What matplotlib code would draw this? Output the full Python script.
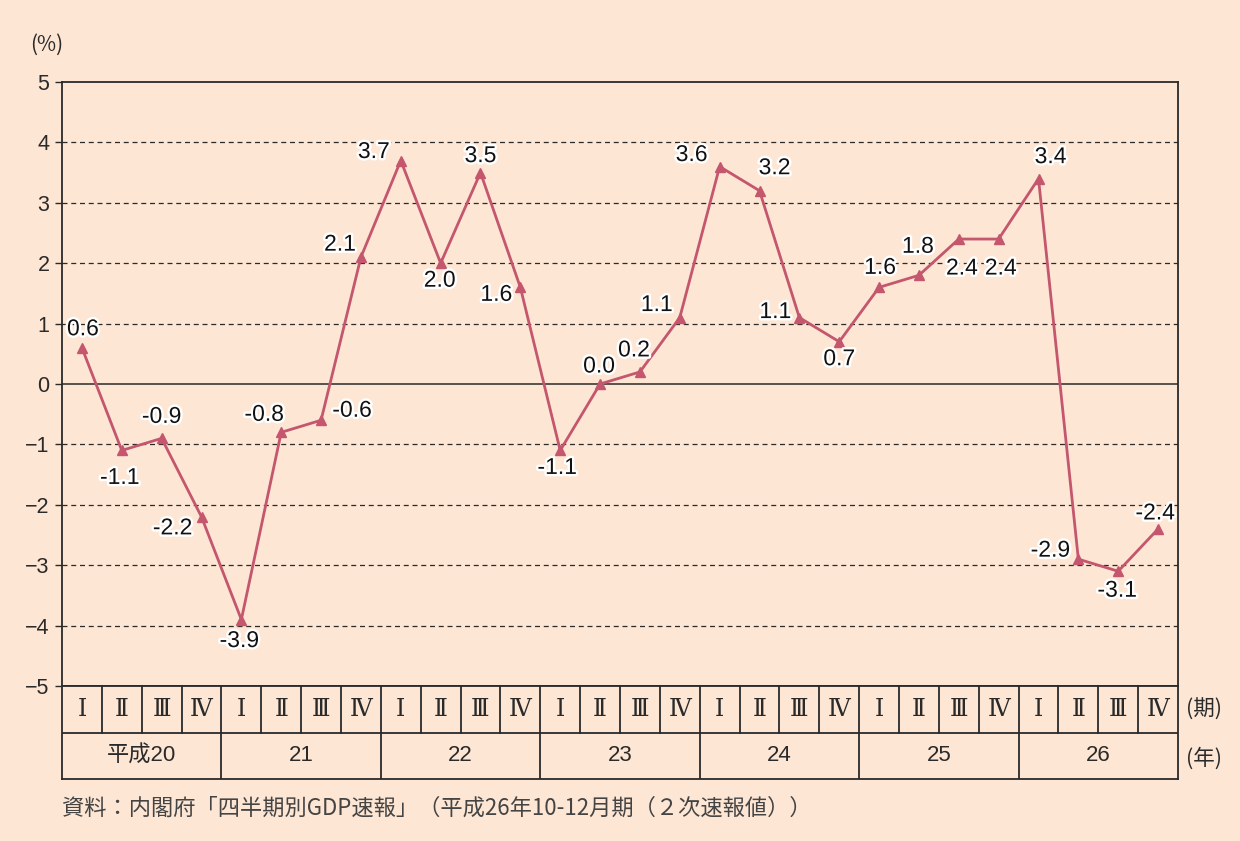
import numpy as np
import matplotlib.pyplot as plt
import matplotlib.patheffects as pe

plt.rcParams['font.family'] = ['Liberation Sans', 'Noto Sans CJK JP', 'DejaVu Sans']

# 実質GDP成長率（前年同期比）
values = [0.6, -1.1, -0.9, -2.2, -3.9, -0.8, -0.6, 2.1,
          3.7, 2.0, 3.5, 1.6, -1.1, 0.0, 0.2, 1.1,
          3.6, 3.2, 1.1, 0.7, 1.6, 1.8, 2.4, 2.4,
          3.4, -2.9, -3.1, -2.4]
quarters = ['Ⅰ', 'Ⅱ', 'Ⅲ', 'Ⅳ']
years = ['平成20', '21', '22', '23', '24', '25', '26']
yticks = [5, 4, 3, 2, 1, 0, -1, -2, -3, -4, -5]

# label offsets in pixels (dx, dy)
offs = [(1, 19), (-2, -27), (0, 22), (-29, -11), (-2, -21), (-17, 18), (31, 10), (-21, 13),
        (-27, 9), (-1, -17), (0, 17), (-24, -7), (-3, -17), (-1, 18), (-6, 22), (-23, 13),
        (-28, 12), (15, 23), (-24, 6), (0, -17), (1, 20), (-1, 29), (3, -29), (2, -29),
        (12, 22), (-28, 9), (-1, -19), (-3, 16)]

bg = '#FDE6D4'
red = '#C4566E'
ink = '#2a2a2a'

fig = plt.figure(figsize=(12.4, 8.41), dpi=100, facecolor=bg)
ax = fig.add_axes([62/1240, 1-686/841, 1116/1240, 604/841])
ax.set_facecolor(bg)

n = len(values)
x = np.arange(n) + 0.5
ax.set_xlim(0, n)
ax.set_ylim(-5, 5)

for t in yticks:
    if t in (5, -5):
        continue
    if t == 0:
        ax.axhline(t, color=ink, lw=1.1, zorder=1)
    else:
        ax.axhline(t, color=ink, lw=0.9, ls=(0, (4, 3)), zorder=1)

ax.plot(x, values, color=red, lw=2, marker='^', ms=7, zorder=3)

for xi, v, (dx, dy) in zip(x, values, offs):
    ax.annotate(f'{v:.1f}', (xi, v), xytext=(dx, dy), textcoords='offset pixels',
                ha='center', va='center', fontsize=16.5, color='#111111', zorder=4,
                path_effects=[pe.withStroke(linewidth=3.5, foreground='white')])

ax.set_yticks(yticks)
ax.set_yticklabels([str(t).replace('-', '−') for t in yticks], fontsize=15.5, color=ink)
ax.set_xticks([])
ax.tick_params(axis='y', length=5, width=1, color=ink, pad=4)
for s in ax.spines.values():
    s.set_color(ink)
    s.set_linewidth(1.3)

# 期・年の表
tb = fig.add_axes([62/1240, 1-779/841, 1116/1240, 93/841])
tb.set_xlim(0, n)
tb.set_ylim(0, 2)
tb.set_facecolor(bg)
tb.set_xticks([])
tb.set_yticks([])
for s in tb.spines.values():
    s.set_color(ink)
    s.set_linewidth(1.3)
tb.axhline(1, color=ink, lw=1.3)
for i in range(1, n):
    if i % 4 == 0:
        tb.plot([i, i], [0, 2], color=ink, lw=1.3)
    else:
        tb.plot([i, i], [1, 2], color=ink, lw=1.3)
for i in range(n):
    tb.text(i + 0.5, 1.5, quarters[i % 4], ha='center', va='center',
            fontsize=17, family=['DejaVu Serif'], color=ink)
for j, yl in enumerate(years):
    tb.text(j * 4 + 2, 0.5, yl, ha='center', va='center', fontsize=16, color=ink)

fig.text(1186/1240, 1-710/841, '(期)', ha='left', va='center', fontsize=15.5,
         family=['Noto Sans CJK JP'], color=ink)
fig.text(1186/1240, 1-759/841, '(年)', ha='left', va='center', fontsize=15.5,
         family=['Noto Sans CJK JP'], color=ink)
fig.text(30/1240, 1-45/841, '(%)', ha='left', va='center', fontsize=15,
         family=['Noto Sans CJK JP'], color=ink)
fig.text(62/1240, 1-808/841, '資料：内閣府「四半期別GDP速報」（平成26年10-12月期（２次速報値））',
         ha='left', va='center', fontsize=16, family=['Noto Sans CJK JP'], color='#444444')

fig.savefig('out.png', dpi=100, facecolor=bg)
